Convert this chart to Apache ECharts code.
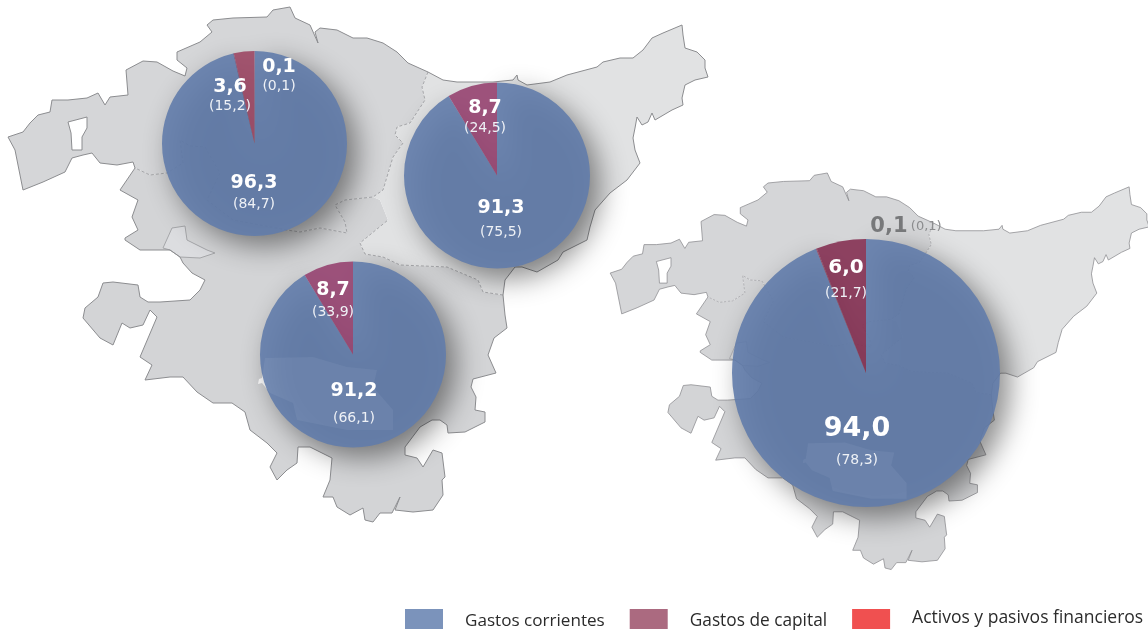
<!DOCTYPE html>
<html>
<head>
<meta charset="utf-8">
<style>
html, body { margin: 0; padding: 0; background: #fff; }
#chart { width: 1148px; height: 631px; }
</style>
<script src="https://cdn.jsdelivr.net/npm/echarts@6/dist/echarts.min.js"></script>
</head>
<body>
<div id="chart"></div>
<script>
var categories = ['Gastos corrientes', 'Activos y pasivos financieros', 'Gastos de capital'];
var legendOrder = ['Gastos corrientes', 'Gastos de capital', 'Activos y pasivos financieros'];

// share of each category, one list per pie
var bizkaia = [96.3, 0.1, 3.6];
var gipuzkoa = [91.3, 0, 8.7];
var araba = [91.2, 0, 8.7];
var total = [94.0, 0.1, 6.0];

// figures in brackets
var bizkaiaPrev = ['84,7', '0,1', '15,2'];
var gipuzkoaPrev = ['75,5', '', '24,5'];
var arabaPrev = ['66,1', '', '33,9'];
var totalPrev = ['78,3', '0,1', '21,7'];

// backdrop map, not data
var west = [[8,137],[23,132],[30,123],[38,115],[50,112],[52,100],[68,100],[87,98],[98,93],[105,105],[110,97],[128,95],[126,70],[143,61],[157,62],[173,71],[185,76],[187,68],[177,60],[177,52],[200,42],[212,32],[207,25],[213,20],[233,18],[267,17],[273,10],[290,7],[295,18],[310,25],[318,43],[315,32],[320,28],[337,30],[353,38],[367,38],[383,43],[397,52],[408,63],[428,72],[422,87],[425,100],[410,123],[397,127],[395,135],[403,143],[393,157],[383,190],[373,197],[345,200],[335,205],[345,222],[347,233],[320,228],[300,232],[287,230],[233,220],[207,200],[220,173],[205,147],[190,146],[180,140],[183,163],[167,173],[150,175],[135,168],[133,162],[117,165],[100,163],[92,153],[83,155],[72,158],[65,172],[43,182],[23,190],[15,150]];
var east = [[428,72],[443,80],[457,82],[493,82],[513,80],[517,75],[518,80],[527,85],[550,82],[567,75],[597,67],[603,62],[620,58],[633,58],[643,50],[652,38],[663,33],[682,25],[683,35],[685,48],[697,52],[705,60],[705,68],[708,77],[695,80],[685,85],[682,98],[683,105],[672,110],[655,120],[652,113],[648,122],[642,125],[637,117],[635,128],[633,138],[635,150],[640,163],[627,180],[610,193],[595,210],[590,227],[587,240],[563,252],[558,260],[537,272],[522,267],[515,267],[505,280],[503,295],[483,292],[478,280],[447,267],[400,265],[383,257],[365,254],[360,243],[388,220],[380,200],[373,197],[383,190],[393,157],[403,143],[395,135],[397,127],[410,123],[425,100],[422,87]];
var south = [[135,168],[150,175],[167,173],[183,163],[180,140],[190,146],[205,147],[220,173],[207,200],[233,220],[287,230],[300,232],[320,228],[347,233],[345,222],[335,205],[345,200],[373,197],[380,200],[388,220],[360,243],[365,254],[383,257],[400,265],[447,267],[478,280],[483,292],[503,295],[505,315],[507,328],[494,338],[488,355],[496,373],[473,379],[471,387],[476,397],[475,410],[485,412],[485,422],[465,432],[448,433],[447,425],[440,420],[432,420],[420,427],[405,447],[405,455],[417,458],[423,467],[433,450],[442,453],[445,477],[442,480],[443,495],[433,510],[413,512],[395,510],[400,497],[392,513],[380,513],[373,522],[365,520],[363,508],[350,515],[337,507],[333,497],[323,497],[330,480],[332,458],[310,447],[298,447],[297,463],[287,470],[277,480],[270,467],[277,453],[267,443],[250,430],[245,412],[232,403],[213,403],[197,392],[183,377],[170,377],[145,380],[152,365],[140,357],[157,317],[150,310],[143,325],[130,328],[122,323],[113,345],[100,338],[83,318],[85,308],[98,297],[103,283],[113,282],[138,285],[140,297],[148,302],[160,302],[190,300],[200,290],[205,280],[192,273],[183,263],[180,257],[170,250],[140,250],[125,240],[125,238],[138,230],[132,217],[138,200],[120,190]];
var hole = [[68,122],[87,117],[87,128],[82,137],[82,150],[72,150],[71,133]];
var enclave = [[163,248],[172,228],[185,226],[187,240],[207,250],[215,253],[200,258],[180,257],[170,250]];
var trevino = [[265,358],[313,357],[347,367],[377,370],[373,387],[393,410],[393,430],[347,430],[297,420],[293,403],[270,393],[262,383],[258,384],[259,379],[262,378]];

// label spots per slice: x, y of the big figure, distance to the bracket line, big font size
var pieDefs = [
  { values: bizkaia, prev: bizkaiaPrev, center: [254.5, 143.5], r: 92.5,
    capital: 'rgba(156,71,100,0.9)', fin: 'rgba(77,58,114,0.9)',
    labels: [[254, 183, 21, 19], [279, 67, 19, 19], [230, 87, 19, 19]] },
  { values: gipuzkoa, prev: gipuzkoaPrev, center: [497, 175.5], r: 93,
    capital: 'rgba(150,66,112,0.9)', fin: 'rgba(150,66,112,0.9)',
    labels: [[501, 208, 24, 19], null, [485, 108, 20, 19]] },
  { values: araba, prev: arabaPrev, center: [353, 354.5], r: 93,
    capital: 'rgba(150,66,112,0.9)', fin: 'rgba(150,66,112,0.9)',
    labels: [[354, 391, 27, 19], null, [333, 290, 22, 19]] },
  { values: total, prev: totalPrev, center: [866, 373], r: 134,
    capital: 'rgba(133,49,83,0.9)', fin: 'rgba(133,49,83,0.9)',
    labels: [[857, 429, 31, 27], [906, 227, 0, 21], [846, 268, 25, 20]] }
];

var BLUE = 'rgba(98,124,171,0.9)';

function fmt(v) {
  return v.toFixed(1).replace('.', ',');
}

function buildPie(def) {
  return {
    type: 'pie',
    center: def.center,
    radius: [0, def.r],
    startAngle: 90,
    silent: true,
    animation: false,
    avoidLabelOverlap: false,
    emphasis: { disabled: true },
    labelLine: { show: false },
    label: { show: true, position: 'inside' },
    labelLayout: function (params) {
      var spot = def.labels[params.dataIndex];
      if (!spot) return { x: -100, y: -100 };
      var lh = spot[2] ? 2 * spot[2] - spot[3] - 2 : 0;
      return { x: spot[0], y: spot[1] + lh / 2, align: 'center', verticalAlign: 'middle' };
    },
    data: categories.map(function (name, i) {
      var spot = def.labels[i];
      var inline = spot && !spot[2];
      var big = spot ? spot[3] : 19;
      var lh = spot && spot[2] ? 2 * spot[2] - big - 2 : 19;
      var text = inline
        ? '{oa|' + fmt(def.values[i]) + '} {ob|(' + def.prev[i] + ')}'
        : '{a|' + fmt(def.values[i]) + '}\n{b|(' + def.prev[i] + ')}';
      return {
        name: name,
        value: def.values[i],
        itemStyle: i === 0
          ? { color: BLUE, shadowBlur: 28, shadowColor: 'rgba(0,0,0,0.5)', shadowOffsetX: 10, shadowOffsetY: 10 }
          : { color: i === 1 ? def.fin : def.capital },
        label: {
          show: def.prev[i] !== '',
          formatter: text,
          rich: {
            a: { fontFamily: 'DejaVu Sans', fontWeight: 'bold', fontSize: big, color: '#fff', lineHeight: big + 2, align: 'center' },
            b: { fontFamily: 'DejaVu Sans', fontSize: 14, color: '#eef1f6', lineHeight: lh, align: 'center' },
            oa: { fontFamily: 'DejaVu Sans', fontWeight: 'bold', fontSize: big, color: '#77787a' },
            ob: { fontFamily: 'DejaVu Sans', fontSize: 13, color: '#8b8c8e' }
          }
        }
      };
    })
  };
}

function pointIndex(list, p) {
  for (var i = 0; i < list.length; i++) {
    if (list[i][0] === p[0] && list[i][1] === p[1]) return i;
  }
  return -1;
}

function between(list, from, to) {
  return list.slice(pointIndex(list, from), pointIndex(list, to) + 1);
}

var coast = between(west, [8,137], [428,72])
  .concat(between(east, [428,72], [503,295]))
  .concat(between(south, [503,295], [120,190]))
  .concat([[135,168]])
  .concat(between(west, [135,168], [15,150]))
  .concat([[8,137]]);
var innerLines = [
  between(west, [428,72], [135,168]),
  between(east, [503,295], [388,220])
];

function fillRegion(points, fill) {
  return { type: 'polygon', silent: true, shape: { points: points }, style: { fill: fill } };
}

function line(points, color, dash) {
  return {
    type: 'polyline', silent: true,
    shape: { points: points },
    style: { fill: 'none', stroke: color, lineWidth: 1, lineDash: dash }
  };
}

function mapGroup(x, y, scale) {
  var kids = [
    fillRegion(west, '#d5d6d8'),
    fillRegion(south, '#d3d4d6'),
    fillRegion(east, '#e1e2e3'),
    fillRegion(enclave, '#dcdde0'),
    fillRegion(hole, '#ffffff'),
    fillRegion(trevino, '#ffffff')
  ];
  innerLines.forEach(function (pts) {
    kids.push(line(pts, '#a6a7aa', [3, 2]));
  });
  kids.push(line(enclave.concat([enclave[0]]), '#a6a7aa', null));
  kids.push(line(hole.concat([hole[0]]), '#8c8d90', null));
  kids.push(line(coast, '#8c8d90', null));
  return { type: 'group', x: x, y: y, scaleX: scale, scaleY: scale, silent: true, children: kids };
}

// the white enclave shows through the glassy pies a bit more than plain alpha gives
function glassPatch(x, y, scale) {
  return {
    type: 'polygon', x: x, y: y, scaleX: scale, scaleY: scale, z: 3, silent: true,
    shape: { points: trevino },
    style: { fill: 'rgba(255,255,255,0.035)' }
  };
}

function legendToken(size, padding) {
  return { fontFamily: 'Open Sans', fontSize: size, color: '#2b2b2b', padding: padding };
}

var chart = echarts.init(document.getElementById('chart'));
chart.setOption({
  backgroundColor: '#fff',
  animation: false,
  graphic: { elements: [mapGroup(0, 0, 1), mapGroup(604, 167.6, 0.77), glassPatch(0, 0, 1), glassPatch(604, 167.6, 0.77)] },
  legend: {
    left: 405, top: 609,
    padding: 0,
    itemWidth: 38, itemHeight: 20, itemGap: 25,
    selectedMode: false,
    icon: 'rect',
    formatter: function (name) {
      return '{t' + legendOrder.indexOf(name) + '|' + name + '}';
    },
    textStyle: {
      rich: {
        t0: legendToken(17.1, [4, 0, 0, 17]),
        t1: legendToken(17.3, [4, 0, 0, 17]),
        t2: legendToken(17.5, [0, 0, 2, 17])
      }
    },
    data: [
      { name: legendOrder[0], itemStyle: { color: '#7b93bb', opacity: 1 } },
      { name: legendOrder[1], itemStyle: { color: '#ab6a80', opacity: 1 } },
      { name: legendOrder[2], itemStyle: { color: '#f05050', opacity: 1 } }
    ]
  },
  series: pieDefs.map(buildPie)
});
</script>
</body>
</html>
